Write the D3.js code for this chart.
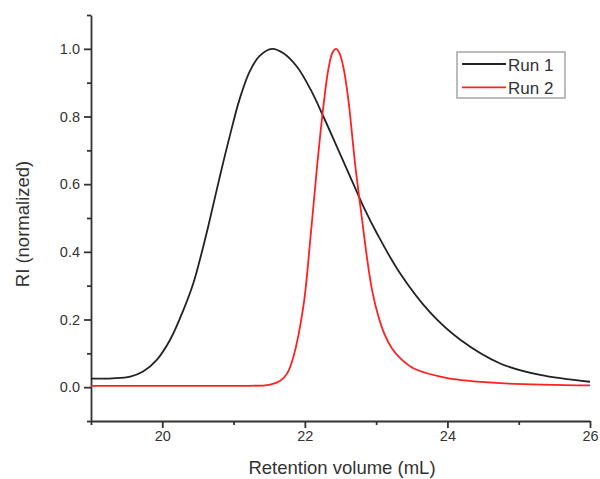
<!DOCTYPE html>
<html>
<head>
<meta charset="utf-8">
<script src="https://cdn.jsdelivr.net/npm/d3@7"></script>
<style>
  body { margin: 0; background: #fff; }
  text { font-family: "Liberation Sans", Arial, sans-serif; fill: #333; }
</style>
</head>
<body>
<svg id="chart" width="600" height="479"></svg>
<script>
// retention volume (mL) / normalized RI
var run1X = [19.0, 19.3, 19.55, 19.73, 19.92, 20.11, 20.30, 20.44, 20.55, 20.65, 20.81, 20.95, 21.09, 21.23, 21.37, 21.54, 21.70, 21.89, 22.08, 22.26, 22.45, 22.64, 22.83, 23.01, 23.34, 23.76, 24.18, 24.74, 25.3, 26.0];
var run1Y = [0.025, 0.026, 0.031, 0.046, 0.08, 0.14, 0.23, 0.31, 0.395, 0.48, 0.625, 0.745, 0.855, 0.935, 0.98, 1.0, 0.987, 0.947, 0.88, 0.80, 0.71, 0.62, 0.53, 0.455, 0.335, 0.22, 0.14, 0.07, 0.036, 0.016];

var run2X = [19.0, 20.0, 21.0, 21.5, 21.65, 21.75, 21.84, 21.98, 22.08, 22.17, 22.26, 22.33, 22.39, 22.44, 22.49, 22.55, 22.61, 22.71, 22.80, 22.87, 22.94, 23.03, 23.12, 23.22, 23.34, 23.53, 24.0, 24.74, 26.0];
var run2Y = [0.004, 0.004, 0.004, 0.007, 0.018, 0.04, 0.09, 0.24, 0.445, 0.65, 0.83, 0.94, 0.99, 1.0, 0.985, 0.935, 0.85, 0.65, 0.50, 0.385, 0.29, 0.21, 0.155, 0.115, 0.085, 0.055, 0.027, 0.012, 0.005];

var xTicks = [20, 22, 24, 26];
var xMinor = [19, 21, 23, 25];
var yTicks = [0.0, 0.2, 0.4, 0.6, 0.8, 1.0];
var yMinor = [-0.1, 0.1, 0.3, 0.5, 0.7, 0.9, 1.1];
var seriesNames = ["Run 1", "Run 2"];
var seriesColors = ["#222222", "#ff2020"];

var svg = d3.select("#chart");
var x = d3.scaleLinear().domain([19, 26]).range([91, 590]);
var y = d3.scaleLinear().domain([-0.1, 1.1]).range([421, 15]);

var axisCol = "#333";

// minor ticks
svg.append("g").attr("transform", "translate(91,0)")
  .call(d3.axisLeft(y).tickValues(yMinor).tickSize(4).tickFormat(""))
  .call(function(g) { g.select(".domain").remove(); g.selectAll("line").attr("stroke", axisCol).attr("stroke-width", 1.8); });
svg.append("g").attr("transform", "translate(0,421)")
  .call(d3.axisBottom(x).tickValues(xMinor).tickSize(4).tickFormat(""))
  .call(function(g) { g.select(".domain").remove(); g.selectAll("line").attr("stroke", axisCol).attr("stroke-width", 1.8); });

// major axes
var yAxis = svg.append("g").attr("transform", "translate(91,0)")
  .call(d3.axisLeft(y).tickValues(yTicks).tickSize(7).tickSizeOuter(0).tickPadding(4).tickFormat(d3.format(".1f")));
var xAxis = svg.append("g").attr("transform", "translate(0,421)")
  .call(d3.axisBottom(x).tickValues(xTicks).tickSize(7).tickSizeOuter(0).tickPadding(3).tickFormat(d3.format("d")));
[xAxis, yAxis].forEach(function(g) {
  g.select(".domain").attr("stroke", axisCol).attr("stroke-width", 1.8);
  g.selectAll("line").attr("stroke", axisCol).attr("stroke-width", 1.8);
  g.selectAll("text").style("font-size", "14.5px").attr("fill", axisCol)
    .style("font-family", "'Liberation Sans', Arial, sans-serif");
});

var line = d3.line()
  .x(function(d) { return x(d[0]); })
  .y(function(d) { return y(d[1]); })
  .curve(d3.curveCatmullRom.alpha(0.5));

var series = [d3.zip(run1X, run1Y), d3.zip(run2X, run2Y)];
svg.selectAll("path.run").data(series).enter().append("path")
  .attr("class", "run")
  .attr("d", line)
  .attr("fill", "none")
  .attr("stroke", function(d, i) { return seriesColors[i]; })
  .attr("stroke-width", 1.8);

// axis titles
svg.append("text").attr("x", 342).attr("y", 474).attr("text-anchor", "middle")
  .style("font-size", "18.5px").text("Retention volume (mL)");
svg.append("text").attr("transform", "translate(29,224) rotate(-90)").attr("text-anchor", "middle")
  .style("font-size", "18.5px").text("RI (normalized)");

// legend
var lg = svg.append("g");
lg.append("rect").attr("x", 457).attr("y", 52).attr("width", 108).attr("height", 46)
  .attr("fill", "#fff").attr("stroke", "#999").attr("stroke-width", 1.3);
seriesNames.forEach(function(name, i) {
  var yy = 64 + i * 23.3;
  lg.append("line").attr("x1", 462).attr("x2", 506).attr("y1", yy).attr("y2", yy)
    .attr("stroke", seriesColors[i]).attr("stroke-width", 1.8);
  lg.append("text").attr("x", 508).attr("y", yy + 6.5).style("font-size", "17px").attr("fill", "#222").text(name);
});
</script>
</body>
</html>
